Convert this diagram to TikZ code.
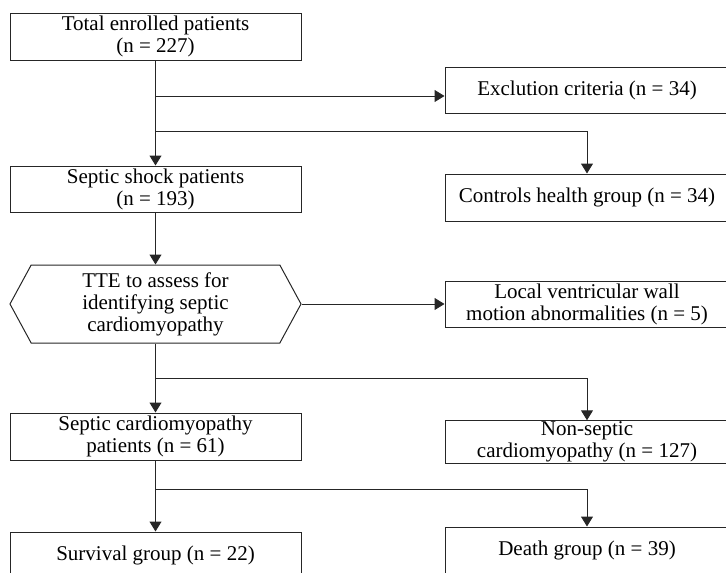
\documentclass[tikz,border=0pt]{standalone}
\usepackage{fontspec}
\setmainfont{Liberation Serif}
\usetikzlibrary{arrows.meta,shapes.symbols}

\tikzset{
  flowbox/.style={rectangle, draw=black!85, line width=1pt, align=center,
    minimum width=291pt, font=\fontsize{21}{22}\selectfont, inner sep=1pt},
  sidebox/.style={flowbox, minimum width=284pt},
  hexbox/.style={signal, signal to=west and east, signal pointer angle=123,
    draw=black!85, line width=1pt, align=center, minimum width=291pt,
    minimum height=78pt, font=\fontsize{21}{22}\selectfont, inner sep=0pt},
  flowline/.style={draw=black!85, line width=1pt},
  flowarrow/.style={flowline, -{Triangle[width=12pt,length=10pt]}}
}

\begin{document}
\begin{tikzpicture}[x=1pt, y=-1pt]
  \clip (0,0) rectangle (726,573);
  \useasboundingbox (0,0) rectangle (726,573);
  \node[flowbox, minimum height=47pt] (total) at (155.5,36.5) {Total enrolled patients\\(n = 227)};
  \node[sidebox, minimum height=46pt] (excl) at (587,90) {Exclution criteria (n = 34)};
  \node[sidebox, minimum height=47pt] (ctrl) at (587,197.5) {Controls health group (n = 34)};
  \node[flowbox, minimum height=46pt] (shock) at (155.5,189) {Septic shock patients\\(n = 193)};
  \node[hexbox] (tte) at (155.5,304) {TTE to assess for\\identifying septic\\cardiomyopathy};
  \node[sidebox, minimum height=46pt] (local) at (587,304) {Local ventricular wall\\motion abnormalities (n = 5)};
  \node[flowbox, minimum height=47pt] (scm) at (155.5,436.5) {Septic cardiomyopathy\\patients (n = 61)};
  \node[sidebox, minimum height=42pt] (nonscm) at (587,442) {Non-septic\\cardiomyopathy (n = 127)};
  \node[flowbox, minimum height=47pt] (surv) at (155.5,555.5) {Survival group (n = 22)};
  \node[sidebox, minimum height=47pt] (death) at (587,550.5) {Death group (n = 39)};
  \coordinate (b1) at (155.5,96);
  \coordinate (b2) at (155.5,131);
  \coordinate (b3) at (155.5,378);
  \coordinate (b4) at (155.5,489);
  \draw[flowarrow] (total.south) -- (shock.north);
  \draw[flowarrow] (b1) -- (b1 -| excl.west);
  \draw[flowarrow] (b2) -| (ctrl.north);
  \draw[flowarrow] (shock.south) -- (tte.north);
  \draw[flowarrow] (tte.east) -- (local.west);
  \draw[flowarrow] (tte.south) -- (scm.north);
  \draw[flowarrow] (b3) -| (nonscm.north);
  \draw[flowarrow] (scm.south) -- (surv.north);
  \draw[flowarrow] (b4) -| (death.north);
\end{tikzpicture}
\end{document}
